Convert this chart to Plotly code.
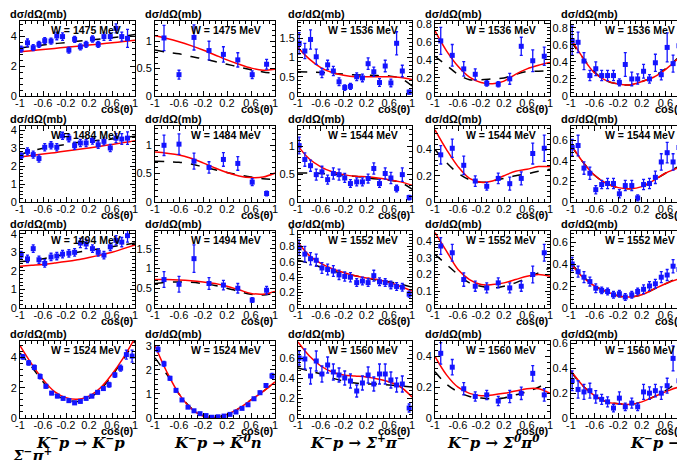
import plotly.graph_objects as go

curve_cos = [-1, -0.8, -0.6, -0.4, -0.2, 0, 0.2, 0.4, 0.6, 0.8, 1]

# measured angles for the different channels
cos_kp = [-0.98, -0.87, -0.77, -0.67, -0.57, -0.46, -0.36, -0.26, -0.15, -0.05,
          0.05, 0.15, 0.26, 0.36, 0.46, 0.57, 0.67, 0.77, 0.87]
cos_kp_1524 = [-0.95, -0.85, -0.75, -0.65, -0.55, -0.45, -0.35, -0.25, -0.15, -0.05,
               0.05, 0.15, 0.25, 0.35, 0.45, 0.55, 0.65, 0.75, 0.85, 0.95]
cos_k0n = [-0.85, -0.6, -0.35, -0.1, 0.14, 0.38, 0.62, 0.86]
cos_k0n_1524 = [-0.95, -0.85, -0.75, -0.65, -0.55, -0.45, -0.35, -0.25, -0.15, -0.05,
                0.05, 0.15, 0.25, 0.35, 0.45, 0.55, 0.65, 0.75, 0.85, 0.95]
cos_spm = [-0.98, -0.88, -0.78, -0.68, -0.58, -0.48, -0.38, -0.28, -0.18, -0.08,
           0.03, 0.13, 0.23, 0.33, 0.43, 0.53, 0.63, 0.73, 0.83, 0.95]
cos_s0p0 = [-0.9, -0.7, -0.5, -0.3, -0.1, 0.1, 0.3, 0.5, 0.7, 0.9]

# ---- K- p -> K- p
kp_1475 = [3.13, 3.55, 3.22, 3.44, 3.69, 3.66, 4.0, 3.96, 3.06, 3.78, 3.28, 3.44, 3.8, 3.44, 3.96, 3.96, 4.51, 3.96, 3.84]
kp_1475_err = [0.2, 0.25, 0.2, 0.2, 0.2, 0.2, 0.25, 0.25, 0.2, 0.2, 0.2, 0.2, 0.2, 0.2, 0.25, 0.25, 0.3, 0.3, 0.6]
kp_1475_fit = [2.95, 3.02, 3.1, 3.17, 3.25, 3.32, 3.4, 3.47, 3.55, 3.63, 3.71]
kp_1475_old = [3.2, 3.3, 3.4, 3.5, 3.55, 3.65, 3.72, 3.8, 3.88, 3.98, 4.1]

kp_1484 = [2.59, 2.83, 2.65, 2.43, 3.06, 3.17, 3.06, 3.7, 3.57, 3.15, 3.3, 3.3, 3.44, 3.2, 3.39, 3.02, 3.57, 3.52, 3.57]
kp_1484_err = [0.15, 0.2, 0.2, 0.2, 0.2, 0.2, 0.2, 0.2, 0.2, 0.2, 0.2, 0.2, 0.2, 0.2, 0.2, 0.2, 0.25, 0.3, 0.35]
kp_1484_fit = [2.52, 2.6, 2.68, 2.76, 2.85, 2.93, 3.02, 3.12, 3.22, 3.32, 3.43]
kp_1484_old = [2.65, 2.85, 3.0, 3.12, 3.22, 3.33, 3.4, 3.46, 3.52, 3.6, 3.67]

kp_1494 = [2.85, 2.65, 3.2, 2.6, 2.4, 2.75, 2.8, 2.9, 2.95, 3.0, 3.5, 3.45, 3.2, 3.0, 2.85, 3.3, 3.65, 3.55, 3.9]
kp_1494_err = [0.2, 0.2, 0.2, 0.2, 0.2, 0.2, 0.2, 0.2, 0.2, 0.2, 0.25, 0.25, 0.2, 0.2, 0.2, 0.2, 0.25, 0.25, 0.35]
kp_1494_fit = [2.25, 2.3, 2.35, 2.42, 2.5, 2.6, 2.72, 2.85, 3.0, 3.2, 3.4]
kp_1494_old = [2.5, 2.55, 2.65, 2.78, 2.9, 3.0, 3.1, 3.2, 3.3, 3.4, 3.5]

kp_1524 = [4.05, 3.65, 3.35, 2.75, 2.1, 1.65, 1.45, 1.3, 1.15, 1.0, 1.1, 1.3, 1.45, 1.7, 1.95, 2.2, 2.85, 3.3, 4.2, 4.1]
kp_1524_err = [0.15, 0.15, 0.15, 0.15, 0.12, 0.1, 0.1, 0.1, 0.1, 0.1, 0.1, 0.1, 0.1, 0.1, 0.12, 0.15, 0.15, 0.2, 0.3, 0.4]
kp_1524_fit = [4.8, 3.6, 2.55, 1.75, 1.35, 1.25, 1.45, 2.0, 2.9, 4.0, 5.3]
kp_1524_old = [4.3, 3.4, 2.4, 1.6, 1.2, 1.1, 1.3, 1.9, 2.8, 3.9, 5.1]

# ---- K- p -> K0bar n
k0n_1475 = [1.06, 0.39, 1.07, 0.83, 0.76, 0.66, 0.39, 0.58]
k0n_1475_err = [0.23, 0.08, 0.23, 0.17, 0.14, 0.13, 0.07, 0.09]
k0n_1475_fit = [1.1, 1.05, 0.99, 0.92, 0.84, 0.75, 0.66, 0.58, 0.51, 0.47, 0.49]
k0n_1475_old = [0.84, 0.8, 0.77, 0.72, 0.68, 0.63, 0.58, 0.53, 0.48, 0.44, 0.41]

k0n_1484 = [1.0, 1.02, 0.72, 0.61, 0.75, 0.68, 0.35, 0.15]
k0n_1484_err = [0.18, 0.18, 0.14, 0.1, 0.12, 0.12, 0.06, 0.04]
k0n_1484_fit = [0.88, 0.86, 0.83, 0.77, 0.69, 0.6, 0.52, 0.46, 0.43, 0.44, 0.51]
k0n_1484_old = [0.72, 0.71, 0.7, 0.67, 0.62, 0.57, 0.52, 0.48, 0.44, 0.41, 0.4]

k0n_1494 = [0.72, 0.6, 1.25, 0.62, 0.58, 0.5, 0.2, 0.45]
k0n_1494_err = [0.2, 0.2, 0.35, 0.15, 0.12, 0.12, 0.06, 0.1]
k0n_1494_fit = [0.72, 0.72, 0.71, 0.69, 0.66, 0.62, 0.55, 0.46, 0.37, 0.35, 0.42]
k0n_1494_old = [0.62, 0.65, 0.66, 0.65, 0.62, 0.57, 0.5, 0.42, 0.35, 0.33, 0.38]

k0n_1524 = [2.85, 2.25, 1.65, 1.15, 0.75, 0.45, 0.3, 0.18, 0.1, 0.03, 0.05, 0.08, 0.15, 0.25, 0.4, 0.55, 0.8, 1.05, 1.35, 1.75]
k0n_1524_err = [0.1, 0.1, 0.08, 0.07, 0.05, 0.04, 0.03, 0.03, 0.02, 0.02, 0.02, 0.02, 0.03, 0.03, 0.04, 0.05, 0.06, 0.07, 0.08, 0.1]
k0n_1524_fit = [3.0, 1.9, 1.0, 0.4, 0.08, 0.02, 0.15, 0.4, 0.75, 1.1, 1.5]
k0n_1524_old = [2.5, 1.8, 1.0, 0.42, 0.1, 0.03, 0.15, 0.4, 0.75, 1.1, 1.5]

# ---- K- p -> Sigma+ pi-
spm_1536 = [1.37, 1.17, 1.47, 1.02, 0.6, 0.81, 0.65, 0.37, 0.22, 0.25, 0.5, 0.47, 0.84, 0.63, 0.35, 0.78, 0.34, 1.37, 0.65, 0.1]
spm_1536_err = [0.28, 0.2, 0.25, 0.2, 0.12, 0.12, 0.12, 0.1, 0.07, 0.08, 0.1, 0.1, 0.15, 0.12, 0.1, 0.15, 0.1, 0.3, 0.15, 0.05]
spm_1536_fit = [1.26, 0.96, 0.74, 0.61, 0.54, 0.5, 0.5, 0.5, 0.5, 0.48, 0.43]
spm_1536_old = [0.63, 0.62, 0.61, 0.59, 0.57, 0.55, 0.54, 0.53, 0.52, 0.46, 0.26]

spm_1544 = [1.01, 0.76, 0.65, 0.49, 0.54, 0.4, 0.51, 0.49, 0.43, 0.33, 0.36, 0.36, 0.42, 0.6, 0.33, 0.51, 0.43, 0.24, 0.49, 0.08]
spm_1544_err = [0.15, 0.12, 0.1, 0.1, 0.1, 0.08, 0.1, 0.1, 0.08, 0.07, 0.07, 0.07, 0.08, 0.1, 0.07, 0.1, 0.1, 0.06, 0.12, 0.04]
spm_1544_fit = [1.0, 0.77, 0.63, 0.54, 0.49, 0.46, 0.45, 0.43, 0.4, 0.36, 0.3]
spm_1544_old = [0.52, 0.52, 0.51, 0.5, 0.48, 0.46, 0.43, 0.41, 0.39, 0.35, 0.23]

spm_1552 = [0.78, 0.7, 0.64, 0.62, 0.52, 0.5, 0.48, 0.43, 0.41, 0.4, 0.33, 0.35, 0.33, 0.42, 0.34, 0.33, 0.3, 0.28, 0.27, 0.18]
spm_1552_err = [0.1, 0.1, 0.08, 0.08, 0.07, 0.07, 0.07, 0.06, 0.06, 0.06, 0.05, 0.05, 0.05, 0.07, 0.05, 0.05, 0.05, 0.05, 0.05, 0.04]
spm_1552_fit = [0.85, 0.68, 0.58, 0.51, 0.46, 0.42, 0.39, 0.37, 0.33, 0.28, 0.22]
spm_1552_old = [0.62, 0.58, 0.53, 0.48, 0.45, 0.42, 0.39, 0.36, 0.34, 0.31, 0.27]

spm_1560 = [0.6, 0.59, 0.42, 0.57, 0.44, 0.53, 0.46, 0.43, 0.4, 0.37, 0.27, 0.35, 0.43, 0.34, 0.44, 0.44, 0.38, 0.33, 0.34, 0.1]
spm_1560_err = [0.07, 0.1, 0.08, 0.1, 0.08, 0.08, 0.08, 0.07, 0.07, 0.07, 0.06, 0.07, 0.08, 0.07, 0.1, 0.1, 0.08, 0.07, 0.08, 0.04]
spm_1560_fit = [0.76, 0.62, 0.52, 0.46, 0.43, 0.42, 0.41, 0.39, 0.36, 0.31, 0.21]
spm_1560_old = [0.5, 0.47, 0.44, 0.4, 0.37, 0.35, 0.34, 0.34, 0.33, 0.32, 0.31]

# ---- K- p -> Sigma0 pi0
s0p0_1536 = [0.61, 0.45, 0.3, 0.24, 0.14, 0.13, 0.19, 0.55, 0.39, 0.44]
s0p0_1536_err = [0.15, 0.12, 0.08, 0.06, 0.03, 0.03, 0.06, 0.1, 0.12, 0.1]
s0p0_1536_fit = [0.72, 0.5, 0.33, 0.21, 0.15, 0.135, 0.165, 0.24, 0.3, 0.34, 0.37]
s0p0_1536_old = [0.44, 0.34, 0.24, 0.18, 0.18, 0.19, 0.2, 0.24, 0.27, 0.275, 0.28]

s0p0_1544 = [0.36, 0.41, 0.28, 0.16, 0.12, 0.18, 0.14, 0.18, 0.37, 0.41]
s0p0_1544_err = [0.07, 0.07, 0.07, 0.04, 0.03, 0.04, 0.05, 0.05, 0.08, 0.1]
s0p0_1544_fit = [0.55, 0.4, 0.27, 0.18, 0.15, 0.16, 0.2, 0.235, 0.25, 0.27, 0.27]
s0p0_1544_old = [0.4, 0.3, 0.22, 0.17, 0.15, 0.16, 0.18, 0.2, 0.215, 0.235, 0.25]

s0p0_1552 = [0.37, 0.33, 0.17, 0.13, 0.12, 0.15, 0.12, 0.13, 0.2, 0.33]
s0p0_1552_err = [0.05, 0.05, 0.04, 0.03, 0.03, 0.03, 0.03, 0.03, 0.05, 0.05]
s0p0_1552_fit = [0.45, 0.34, 0.23, 0.17, 0.14, 0.14, 0.15, 0.17, 0.19, 0.2, 0.19]
s0p0_1552_old = [0.32, 0.26, 0.2, 0.15, 0.13, 0.12, 0.13, 0.15, 0.18, 0.21, 0.24]

s0p0_1560 = [0.42, 0.33, 0.19, 0.14, 0.15, 0.11, 0.14, 0.16, 0.29, 0.15]
s0p0_1560_err = [0.07, 0.05, 0.04, 0.03, 0.03, 0.03, 0.04, 0.04, 0.05, 0.04]
s0p0_1560_fit = [0.4, 0.28, 0.2, 0.16, 0.145, 0.15, 0.16, 0.175, 0.19, 0.19, 0.16]
s0p0_1560_old = [0.3, 0.22, 0.17, 0.14, 0.13, 0.125, 0.13, 0.15, 0.17, 0.2, 0.24]

# ---- K- p -> Sigma- pi+
smp_1536 = [0.65, 0.63, 0.41, 0.24, 0.32, 0.24, 0.24, 0.24, 0.16, 0.37, 0.2, 0.2, 0.29, 0.2, 0.39, 0.25, 0.57, 0.38, 0.59, 0.14]
smp_1536_err = [0.17, 0.12, 0.1, 0.06, 0.08, 0.06, 0.06, 0.06, 0.04, 0.14, 0.08, 0.06, 0.08, 0.05, 0.1, 0.06, 0.17, 0.1, 0.16, 0.1]
smp_1536_fit = [0.67, 0.45, 0.27, 0.18, 0.14, 0.13, 0.17, 0.22, 0.31, 0.43, 0.59]
smp_1536_old = [0.64, 0.45, 0.28, 0.18, 0.14, 0.13, 0.17, 0.23, 0.32, 0.44, 0.6]

smp_1544 = [0.53, 0.55, 0.33, 0.28, 0.12, 0.17, 0.18, 0.18, 0.08, 0.16, 0.16, 0.04, 0.17, 0.18, 0.24, 0.39, 0.48, 0.39, 0.53, 0.21]
smp_1544_err = [0.08, 0.1, 0.06, 0.06, 0.04, 0.04, 0.05, 0.05, 0.04, 0.05, 0.05, 0.03, 0.05, 0.05, 0.06, 0.08, 0.1, 0.08, 0.1, 0.06]
smp_1544_fit = [0.56, 0.39, 0.26, 0.18, 0.14, 0.13, 0.15, 0.21, 0.28, 0.33, 0.39]
smp_1544_old = [0.55, 0.39, 0.26, 0.18, 0.14, 0.13, 0.15, 0.21, 0.28, 0.34, 0.4]

smp_1552 = [0.4, 0.33, 0.28, 0.24, 0.18, 0.16, 0.15, 0.12, 0.13, 0.1, 0.12, 0.15, 0.17, 0.2, 0.22, 0.28, 0.3, 0.38, 0.35, 0.6]
smp_1552_err = [0.06, 0.05, 0.05, 0.04, 0.04, 0.03, 0.03, 0.03, 0.03, 0.03, 0.03, 0.03, 0.04, 0.04, 0.04, 0.05, 0.05, 0.06, 0.06, 0.08]
smp_1552_fit = [0.4, 0.28, 0.2, 0.15, 0.11, 0.1, 0.12, 0.17, 0.22, 0.26, 0.28]
smp_1552_old = [0.41, 0.29, 0.2, 0.15, 0.11, 0.1, 0.12, 0.17, 0.22, 0.27, 0.3]

smp_1560 = [0.3, 0.23, 0.21, 0.22, 0.17, 0.15, 0.13, 0.08, 0.16, 0.09, 0.12, 0.09, 0.21, 0.2, 0.22, 0.2, 0.26, 0.48, 0.3, 0.21]
smp_1560_err = [0.08, 0.07, 0.06, 0.06, 0.05, 0.04, 0.04, 0.03, 0.05, 0.03, 0.04, 0.03, 0.06, 0.05, 0.05, 0.05, 0.06, 0.1, 0.08, 0.06]
smp_1560_fit = [0.38, 0.26, 0.18, 0.13, 0.115, 0.11, 0.13, 0.17, 0.21, 0.245, 0.25]
smp_1560_old = [0.37, 0.26, 0.18, 0.13, 0.115, 0.11, 0.13, 0.17, 0.22, 0.28, 0.31]

energies = [["1475", "1475", "1536", "1536", "1536"],
            ["1484", "1484", "1544", "1544", "1544"],
            ["1494", "1494", "1552", "1552", "1552"],
            ["1524", "1524", "1560", "1560", "1560"]]

reaction_labels = ["<b><i>K<sup>\u2212</sup>p \u2192 K<sup>\u2212</sup>p</i></b>",
                   "<b><i>K<sup>\u2212</sup>p \u2192 K\u0304<sup>0</sup>n</i></b>",
                   "<b><i>K<sup>\u2212</sup>p \u2192 \u03a3<sup>+</sup>\u03c0<sup>\u2212</sup></i></b>",
                   "<b><i>K<sup>\u2212</sup>p \u2192 \u03a3<sup>0</sup>\u03c0<sup>0</sup></i></b>",
                   "<b><i>K<sup>\u2212</sup>p \u2192</i></b>"]

# panel table: (cos, data, err, fit, old fit, ymax, y tick step)
panels = [
    [(cos_kp, kp_1475, kp_1475_err, kp_1475_fit, kp_1475_old, 5.0, 2),
     (cos_k0n, k0n_1475, k0n_1475_err, k0n_1475_fit, k0n_1475_old, 1.37, 0.5),
     (cos_spm, spm_1536, spm_1536_err, spm_1536_fit, spm_1536_old, 1.95, 0.5),
     (cos_s0p0, s0p0_1536, s0p0_1536_err, s0p0_1536_fit, s0p0_1536_old, 0.83, 0.2),
     (cos_spm, smp_1536, smp_1536_err, smp_1536_fit, smp_1536_old, 0.88, 0.2)],
    [(cos_kp, kp_1484, kp_1484_err, kp_1484_fit, kp_1484_old, 4.25, 1),
     (cos_k0n, k0n_1484, k0n_1484_err, k0n_1484_fit, k0n_1484_old, 1.34, 0.5),
     (cos_spm, spm_1544, spm_1544_err, spm_1544_fit, spm_1544_old, 1.36, 0.5),
     (cos_s0p0, s0p0_1544, s0p0_1544_err, s0p0_1544_fit, s0p0_1544_old, 0.58, 0.2),
     (cos_spm, smp_1544, smp_1544_err, smp_1544_fit, smp_1544_old, 0.74, 0.2)],
    [(cos_kp, kp_1494, kp_1494_err, kp_1494_fit, kp_1494_old, 4.15, 1),
     (cos_k0n, k0n_1494, k0n_1494_err, k0n_1494_fit, k0n_1494_old, 1.95, 0.5),
     (cos_spm, spm_1552, spm_1552_err, spm_1552_fit, spm_1552_old, 1.0, 0.2),
     (cos_s0p0, s0p0_1552, s0p0_1552_err, s0p0_1552_fit, s0p0_1552_old, 0.46, 0.1),
     (cos_spm, smp_1552, smp_1552_err, smp_1552_fit, smp_1552_old, 0.7, 0.2)],
    [(cos_kp_1524, kp_1524, kp_1524_err, kp_1524_fit, kp_1524_old, 5.1, 2),
     (cos_k0n_1524, k0n_1524, k0n_1524_err, k0n_1524_fit, k0n_1524_old, 3.2, 1),
     (cos_spm, spm_1560, spm_1560_err, spm_1560_fit, spm_1560_old, 0.77, 0.2),
     (cos_s0p0, s0p0_1560, s0p0_1560_err, s0p0_1560_fit, s0p0_1560_old, 0.5, 0.2),
     (cos_spm, smp_1560, smp_1560_err, smp_1560_fit, smp_1560_old, 0.62, 0.2)],
]

W, H = 685, 460
col_px = [(12, 127), (147, 267), (290, 404), (427, 542), (563, 681)]
row_px = [(13, 88), (118, 194), (223, 300), (333, 410)]

blue = '#1414ff'
font_main = 'Liberation Sans, Arial, sans-serif'

fig = go.Figure()
annotations = []
n = 0
for r in range(4):
    for c in range(5):
        n += 1
        cos, vals, errs, fit, old, ymax, ystep = panels[r][c]
        xa = 'x' if n == 1 else 'x%d' % n
        ya = 'y' if n == 1 else 'y%d' % n
        # old model, dashed black
        fig.add_trace(go.Scatter(x=curve_cos, y=old, mode='lines', xaxis=xa, yaxis=ya,
                                 line=dict(color='black', width=1.5, dash='dash', shape='spline'),
                                 showlegend=False, hoverinfo='skip'))
        # new fit, red
        fig.add_trace(go.Scatter(x=curve_cos, y=fit, mode='lines', xaxis=xa, yaxis=ya,
                                 line=dict(color='#ff0000', width=1.5, shape='spline'),
                                 showlegend=False, hoverinfo='skip'))
        # data points
        fig.add_trace(go.Scatter(x=cos, y=vals, mode='markers', xaxis=xa, yaxis=ya,
                                 marker=dict(symbol='square', size=5, color=blue),
                                 error_y=dict(type='data', array=errs, color=blue, thickness=1.3, width=1.5),
                                 showlegend=False))

        x0, x1 = col_px[c]
        y0, y1 = row_px[r]
        xd = [x0 / W, x1 / W]
        yd = [1 - y1 / H, 1 - y0 / H]
        axis_common = dict(showline=True, linecolor='black', linewidth=1, mirror='allticks',
                           ticks='inside', ticklen=5, tickcolor='black', showgrid=False,
                           zeroline=False, tickfont=dict(family=font_main, size=11, color='black'))
        fig.layout['xaxis' if n == 1 else 'xaxis%d' % n] = dict(
            domain=xd, anchor=ya, range=[-1, 1],
            tickvals=[-1, -0.6, -0.2, 0.2, 0.6, 1],
            ticktext=['-1', '-0.6', '-0.2', '0.2', '0.6', '1'],
            ticklabelstandoff=-3,
            minor=dict(dtick=0.1, tick0=-1, ticks='inside', ticklen=3, tickcolor='black'),
            **axis_common)
        fig.layout['yaxis' if n == 1 else 'yaxis%d' % n] = dict(
            domain=yd, anchor=xa, range=[0, ymax], dtick=ystep, tick0=0,
            minor=dict(dtick=ystep / 5, ticks='inside', ticklen=3, tickcolor='black'),
            **axis_common)

        # y title above the frame
        annotations.append(dict(text='<b>d\u03c3/d\u03a9(mb)</b>', xref='paper', yref='paper',
                                x=(x0 - 12) / W, y=1 - (y0 - 7) / H, xanchor='left', yanchor='middle',
                                showarrow=False, font=dict(family=font_main, size=11, color='black')))
        # energy label inside
        annotations.append(dict(text='<b>W = %s MeV</b>' % energies[r][c], xref='paper', yref='paper',
                                x=(x1 - 12) / W, y=1 - (y0 + 1) / H, xanchor='right', yanchor='top',
                                showarrow=False, font=dict(family=font_main, size=10.5, color='black')))
        # x title
        annotations.append(dict(text='<b>cos(\u03b8)</b>', xref='paper', yref='paper',
                                x=(x1 + 1) / W, y=1 - (y1 + 13) / H, xanchor='right', yanchor='middle',
                                showarrow=False, font=dict(family=font_main, size=11, color='black')))

label_centers = [72, 210, 350, 485, 648]
for i, txt in enumerate(reaction_labels):
    annotations.append(dict(text=txt, xref='paper', yref='paper', x=label_centers[i] / W, y=1 - 434 / H,
                            xanchor='center', yanchor='middle', showarrow=False,
                            font=dict(family='DejaVu Serif, serif', size=15, color='black')))
annotations.append(dict(text='<b><i>\u03a3<sup>\u2212</sup>\u03c0<sup>+</sup></i></b>', xref='paper', yref='paper',
                        x=2 / W, y=1 - 447 / H, xanchor='left', yanchor='middle', showarrow=False,
                        font=dict(family='DejaVu Serif, serif', size=15, color='black')))

fig.update_layout(width=W, height=H, margin=dict(l=0, r=0, t=0, b=0, autoexpand=False),
                  paper_bgcolor='white', plot_bgcolor='white',
                  annotations=annotations, showlegend=False)

fig.write_html("out.html")
